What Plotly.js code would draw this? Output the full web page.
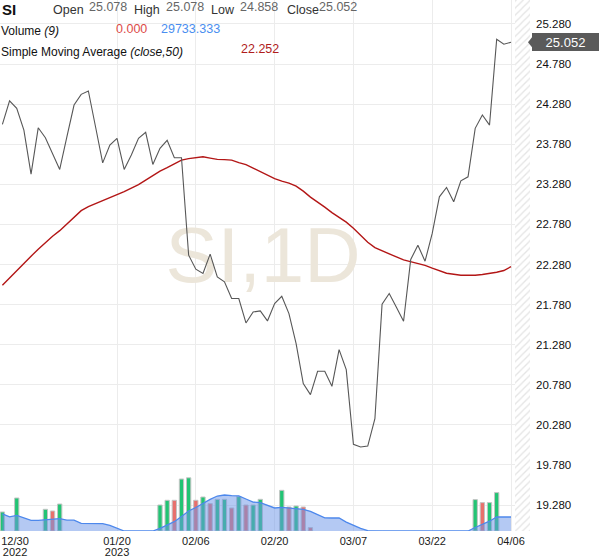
<!DOCTYPE html>
<html><head><meta charset="utf-8">
<script src="https://cdn.plot.ly/plotly-3.0.1.min.js"></script>
<style>html,body{margin:0;padding:0;background:#fff;}#chart{width:600px;height:558px;}</style>
</head><body><div id="chart"></div>
<script>
// bar index 0..71 (12/30/2022 .. 04/06/2023, daily)
const closes = [24.028,24.322,24.228,23.957,23.407,23.985,23.861,23.670,23.466,23.873,
24.269,24.402,24.444,23.998,23.548,23.769,23.853,23.466,23.645,23.853,
23.928,23.528,23.728,23.828,23.611,23.611,22.396,22.221,22.168,22.409,
22.125,22.063,21.855,21.855,21.551,21.688,21.701,21.576,21.793,21.884,
21.668,21.294,20.794,20.657,20.948,20.948,20.761,21.219,20.969,20.037,
20.003,20.015,20.357,21.784,21.918,21.747,21.572,22.342,22.521,22.321,
22.667,23.124,23.241,23.062,23.324,23.374,23.978,24.144,24.019,25.089,
25.027,25.052];
const sma50 = [22.022,22.115,22.203,22.294,22.384,22.471,22.558,22.633,22.702,22.783,
22.871,22.952,23.002,23.039,23.070,23.114,23.151,23.189,23.233,23.276,
23.332,23.389,23.445,23.488,23.538,23.582,23.601,23.616,23.623,23.607,
23.591,23.588,23.582,23.551,23.526,23.482,23.439,23.395,23.351,23.320,
23.295,23.258,23.195,23.120,23.062,22.995,22.927,22.864,22.808,22.733,
22.646,22.558,22.490,22.449,22.415,22.374,22.337,22.315,22.292,22.269,
22.234,22.200,22.171,22.159,22.146,22.146,22.146,22.156,22.165,22.183,
22.205,22.252];
const volume = [40400,0,70100,0,0,0,46100,42500,57300,0,
0,0,0,0,0,0,0,0,0,0,
0,0,55200,65200,65200,110400,113000,65200,72200,58200,
67300,67300,48900,73100,55200,55200,67300,0,0,86400,
51000,53100,51000,7200,0,0,0,0,0,0,
0,0,0,0,0,0,0,0,0,0,
0,0,0,0,0,0,66700,60300,60300,81600,
0,0];
// 1 = up (green), -1 = down (red), 0 = no bar
const volSide = [1,0,1,0,0,0,1,-1,1,0,
0,0,0,0,0,0,0,0,0,0,
0,0,1,1,-1,1,1,-1,1,-1,
1,1,-1,1,-1,1,1,0,0,1,
-1,1,-1,-1,0,0,0,0,0,0,
0,0,0,0,0,0,0,0,0,0,
0,0,0,0,0,0,1,-1,1,1,
0,0];
const volMA9 = [36500,30200,33300,27600,22700,22700,23800,24900,26300,23000,
23000,16400,15700,15700,15700,12100,6800,0,0,0,
0,0,5700,13200,19800,30800,42500,50000,59500,67300,
74300,76500,75300,74800,68000,61500,60300,54600,48900,50300,
49300,48200,46100,41800,35500,28000,27600,27600,19000,11500,
5500,800,0,0,0,0,0,0,0,0,
0,0,0,0,0,0,7400,14000,20800,29733.333,
29733.333,29733.333];
const xLabelPos = [1.76,16,27,38,49,60,71];
const xLabelText = ['12/30','01/20','02/06','02/20','03/07','03/22','04/06'];
const yearPos = [1.76,16];
const yearText = ['2022','2023'];
const xGridPos = [16,27,38,49,60,71];
const yTickVals = [19.28,19.78,20.28,20.78,21.28,21.78,22.28,22.78,23.28,23.78,24.28,24.78,25.28];
const yTickText = yTickVals.map(v => v.toFixed(3));
const ohlcNames = ['Open','High','Low','Close'];
const ohlcVals = ['25.078','25.078','24.858','25.052'];
const watermark = 'SI,1D';

const idx = closes.map((_, i) => i);
const F = 'Arial, "Liberation Sans", sans-serif';
const PW = 530, PH = 531;
const px = p => p / PW, py = p => 1 - p / PH;
const xr = [-0.335, 73.65];
const yr = [18.956, 25.579];

const vIdx = idx.filter(i => volume[i] > 0);
const traces = [
  {type:'scatter', mode:'text', x:[xr[0] + (263/PW)*(xr[1]-xr[0])], y:[yr[1] - (262/PH)*(yr[1]-yr[0])],
   text:[watermark], textposition:'middle center', hoverinfo:'skip', xaxis:'x', yaxis:'y',
   textfont:{family:F, size:78, color:'#ece6da'}},
  {type:'scatter', mode:'lines', x:idx, y:sma50, xaxis:'x', yaxis:'y', line:{color:'#b31616', width:1.4}},
  {type:'scatter', mode:'lines', x:idx, y:closes, xaxis:'x', yaxis:'y', line:{color:'#575757', width:1.1}},
  {type:'bar', x:[72.6], y:[1], width:[2.09], xaxis:'x3', yaxis:'y3', hoverinfo:'skip',
   marker:{color:'#ffffff', line:{width:0}, pattern:{shape:'/', fgcolor:'#e4e4e4', bgcolor:'#ffffff', size:5, solidity:0.25}}},
  {type:'bar', x:vIdx, y:vIdx.map(i => volume[i]), xaxis:'x2', yaxis:'y2', width:0.6,
   marker:{color:vIdx.map(i => volSide[i] > 0 ? '#22c474' : '#e8706c'), line:{color:'#c4c4c4', width:1}}},
  {type:'scatter', mode:'lines', x:idx, y:volMA9, xaxis:'x2', yaxis:'y2', fill:'tozeroy',
   fillcolor:'rgba(105,148,232,0.5)', line:{color:'#4d88ec', width:1.3}}
];

const ann = [];
ann.push({xref:'paper', yref:'paper', x:px(0), y:py(10), text:'<b>SI</b>', showarrow:false,
  xanchor:'left', yanchor:'middle', font:{family:F, size:15, color:'#111'}});
const nameX = [53,134,211,287], valX = [89,166,240,319];
ohlcNames.forEach((n, k) => {
  ann.push({xref:'paper', yref:'paper', x:px(nameX[k]-2), y:py(10.5), text:n, showarrow:false,
    xanchor:'left', yanchor:'middle', font:{family:F, size:12.5, color:'#333'}});
  ann.push({xref:'paper', yref:'paper', x:px(valX[k]-2), y:py(7), text:ohlcVals[k], showarrow:false,
    xanchor:'left', yanchor:'middle', font:{family:F, size:12.5, color:'#666'}});
});
ann.push({xref:'paper', yref:'paper', x:px(-1), y:py(30.5), text:'Volume <i>(9)</i>', showarrow:false,
  xanchor:'left', yanchor:'middle', font:{family:F, size:12, color:'#111'}});
ann.push({xref:'paper', yref:'paper', x:px(114), y:py(28.5), text:volume[71].toFixed(3), showarrow:false,
  xanchor:'left', yanchor:'middle', font:{family:F, size:12.5, color:'#dd4a48'}});
ann.push({xref:'paper', yref:'paper', x:px(159), y:py(28.5), text:volMA9[71].toFixed(3), showarrow:false,
  xanchor:'left', yanchor:'middle', font:{family:F, size:12.5, color:'#4a8ef0'}});
ann.push({xref:'paper', yref:'paper', x:px(-1), y:py(51.5), text:'Simple Moving Average <i>(close,50)</i>', showarrow:false,
  xanchor:'left', yanchor:'middle', font:{family:F, size:12, color:'#111'}});
ann.push({xref:'paper', yref:'paper', x:px(239), y:py(49.5), text:sma50[71].toFixed(3), showarrow:false,
  xanchor:'left', yanchor:'middle', font:{family:F, size:12.5, color:'#b01c1c'}});
ann.push({xref:'paper', yref:'y', x:px(532), y:closes[71], text:closes[71].toFixed(3), showarrow:false,
  xanchor:'left', yanchor:'middle', bgcolor:'#5a5a5a', borderpad:2, borderwidth:0, width:63, height:14,
  font:{family:F, size:13, color:'#ffffff'}});

const layout = {
  width:600, height:558, margin:{l:0, r:70, t:0, b:27}, showlegend:false,
  paper_bgcolor:'#fff', plot_bgcolor:'#fff', bargap:0,
  xaxis:{range:xr, tickmode:'array', tickvals:xLabelPos, ticktext:xLabelText, showgrid:false, zeroline:false,
    showline:false, ticks:'', ticklabelstandoff:2, tickfont:{family:F, size:11, color:'#1a1a1a'}, fixedrange:true},
  xaxis2:{range:xr, overlaying:'x', anchor:'y', tickmode:'array', tickvals:xGridPos, showticklabels:false,
    showgrid:true, gridcolor:'#ececec', gridwidth:1, zeroline:false, showline:false, ticks:''},
  xaxis3:{range:xr, overlaying:'x', anchor:'y', side:'bottom', tickmode:'array', tickvals:yearPos, ticktext:yearText,
    showgrid:false, zeroline:false, showline:false, ticks:'', ticklabelstandoff:13,
    tickfont:{family:F, size:11, color:'#1a1a1a'}},
  yaxis:{range:yr, side:'right', tickmode:'array', tickvals:yTickVals, ticktext:yTickText,
    showgrid:true, gridcolor:'#ececec', zeroline:false, showline:false, ticks:'', ticklabelstandoff:5,
    tickfont:{family:F, size:11.5, color:'#111'}},
  yaxis2:{range:[0, 1128000], overlaying:'y', visible:false, showgrid:false, zeroline:false},
  yaxis3:{range:[0, 1], overlaying:'y', visible:false, showgrid:false, zeroline:false},
  annotations:ann,
  shapes:[{type:'path', xref:'paper', yref:'y', xsizemode:'pixel', ysizemode:'pixel', xanchor:px(532), yanchor:closes[71],
    path:'M -4 0 L 0 5 L 0 -5 Z', fillcolor:'#5a5a5a', line:{width:0}}]
};
Plotly.newPlot('chart', traces, layout, {displayModeBar:false, staticPlot:true});
</script></body></html>
